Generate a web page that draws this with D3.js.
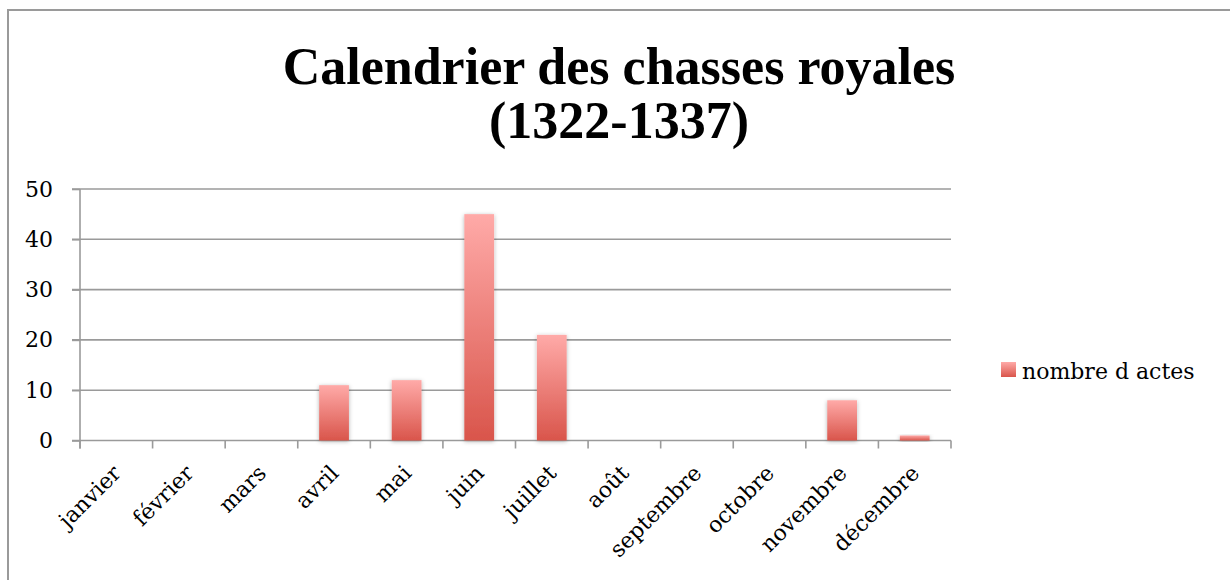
<!DOCTYPE html>
<html>
<head>
<meta charset="utf-8">
<script src="https://cdn.jsdelivr.net/npm/d3@7"></script>
<style>
  body { margin: 0; background: #fff; }
  svg { display: block; }
</style>
</head>
<body>
<div id="chart"></div>
<script>
"use strict";

// data
const months = ["janvier", "février", "mars", "avril", "mai", "juin",
                "juillet", "août", "septembre", "octobre", "novembre", "décembre"];
const actes = [0, 0, 0, 11, 12, 45, 21, 0, 0, 0, 8, 1];
const yTicks = [0, 10, 20, 30, 40, 50];
const seriesName = "nombre d actes";
const titleLines = ["Calendrier des chasses royales", "(1322-1337)"];

const msm = {
  width: 1230,
  height: 580,
  left: 80,
  right: 951,
  top: 189,
  bottom: 440.5
}

const labelFont = "'DejaVu Serif', serif";

const svg = d3.select("#chart")
  .append("svg")
  .attr("width", msm.width)
  .attr("height", msm.height);

// gradient + shadow for the bars
const defs = svg.append("defs");
const grad = defs.append("linearGradient")
  .attr("id", "barGrad")
  .attr("x1", 0).attr("y1", 0).attr("x2", 0).attr("y2", 1);
grad.append("stop").attr("offset", "0%").attr("stop-color", "#ffaaa8");
grad.append("stop").attr("offset", "100%").attr("stop-color", "#d9554b");

const shadow = defs.append("filter")
  .attr("id", "shadow")
  .attr("x", "-30%").attr("y", "-10%").attr("width", "160%").attr("height", "120%");
shadow.append("feDropShadow")
  .attr("dx", 0).attr("dy", 1)
  .attr("stdDeviation", 2)
  .attr("flood-color", "#000")
  .attr("flood-opacity", 0.3);

// outer frame (runs off the right and bottom edges)
svg.append("rect")
  .attr("x", 8).attr("y", 10)
  .attr("width", 1400).attr("height", 800)
  .attr("fill", "none")
  .attr("stroke", "#9a9a9a")
  .attr("stroke-width", 2);

// title
svg.append("text")
  .attr("x", 619)
  .attr("text-anchor", "middle")
  .style("font-family", "'Liberation Serif', serif")
  .style("font-weight", "bold")
  .style("font-size", "52px")
  .selectAll("tspan")
  .data(titleLines)
  .enter()
  .append("tspan")
    .attr("x", 619)
    .attr("y", (d, i) => 84 + i * 54)
    .text(d => d);

// scales
const x = d3.scaleBand()
  .domain(months)
  .range([msm.left, msm.right])
  .paddingInner(0.59)
  .paddingOuter(0.295);

const xCat = d3.scaleBand()
  .domain(months)
  .range([msm.left, msm.right]);

const y = d3.scaleLinear()
  .domain([0, 50])
  .range([msm.bottom, msm.top]);

const axisColor = "#9a9a9a";

// gridlines
svg.append("g")
  .selectAll("line")
  .data(yTicks)
  .enter()
  .append("line")
    .attr("x1", msm.left - 8)
    .attr("x2", msm.right)
    .attr("y1", d => y(d))
    .attr("y2", d => y(d))
    .attr("stroke", axisColor)
    .attr("stroke-width", 1.6);

// y axis
const yAxis = svg.append("g")
  .attr("transform", "translate(" + msm.left + ",0)")
  .call(d3.axisLeft(y).tickValues(yTicks).tickSize(8).tickPadding(19));
yAxis.select(".domain").remove();
yAxis.append("line")
  .attr("x1", 0).attr("x2", 0)
  .attr("y1", msm.top).attr("y2", msm.bottom + 8)
  .attr("stroke", axisColor)
  .attr("stroke-width", 1.6);
yAxis.selectAll(".tick line").attr("stroke", axisColor).attr("stroke-width", 1.6);
yAxis.selectAll(".tick text")
  .attr("fill", "#000")
  .style("font-family", labelFont)
  .style("font-size", "22px");

// x axis: ticks on category boundaries
const boundaries = months.map(m => xCat(m)).concat([msm.right]);
svg.append("g")
  .selectAll("line")
  .data(boundaries)
  .enter()
  .append("line")
    .attr("x1", d => d).attr("x2", d => d)
    .attr("y1", msm.bottom).attr("y2", msm.bottom + 8)
    .attr("stroke", axisColor)
    .attr("stroke-width", 1.6);

svg.append("g")
  .selectAll("text")
  .data(months)
  .enter()
  .append("text")
    .attr("transform", d => "translate(" + (xCat(d) + xCat.bandwidth() / 2 + 6) + "," + (msm.bottom + 34) + ")rotate(-45)")
    .attr("text-anchor", "end")
    .style("font-family", labelFont)
    .style("font-size", "22px")
    .text(d => d);

// bars
svg.append("g")
  .selectAll("rect")
  .data(months.map((m, i) => ({ month: m, value: actes[i] })).filter(d => d.value > 0))
  .enter()
  .append("rect")
    .attr("x", d => x(d.month))
    .attr("y", d => y(d.value))
    .attr("width", x.bandwidth())
    .attr("height", d => y(0) - y(d.value))
    .attr("fill", "url(#barGrad)")
    .attr("filter", "url(#shadow)");

// legend
const legend = svg.append("g").attr("transform", "translate(1001,362)");
legend.append("rect")
  .attr("width", 15).attr("height", 15)
  .attr("fill", "url(#barGrad)");
legend.append("text")
  .attr("x", 21)
  .attr("y", 17)
  .style("font-family", labelFont)
  .style("font-size", "22px")
  .text(seriesName);
</script>
</body>
</html>
